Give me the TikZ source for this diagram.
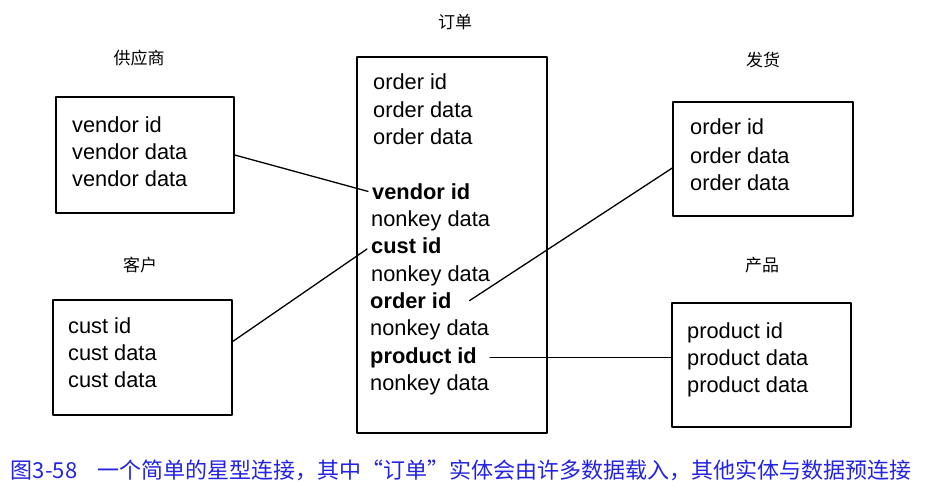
\documentclass[tikz,border=0pt]{standalone}
\usepackage{fontspec}
\usepackage{tikz}
\usetikzlibrary{calc}
\newfontfamily\fieldfont{Liberation Sans}
\newfontfamily\cjk{Noto Sans CJK SC}
\definecolor{capblue}{RGB}{35,35,225}

\begin{document}
\begin{tikzpicture}[x=1pt, y=-1pt, line join=round, line cap=round,
  table/.style={draw, line width=1.4pt, inner sep=0pt},
  field/.style={anchor=base west, inner xsep=4pt, inner ysep=0pt, font=\fieldfont\fontsize{21.8}{24}\selectfont},
  keyfield/.style={field, font=\fieldfont\bfseries\fontsize{21.8}{24}\selectfont},
  title/.style={font=\cjk\fontsize{17}{17}\selectfont},
  link/.style={line width=1.3pt}]
  \useasboundingbox (0,0) rectangle (927,487);

  % Define table frames
  \node[table, minimum width=190pt, minimum height=376pt] (order) at (452,245) {};
  \node[table, minimum width=178pt, minimum height=116pt] (vendor) at (145,155) {};
  \node[table, minimum width=179pt, minimum height=115pt] (cust) at (142.5,357.5) {};
  \node[table, minimum width=180pt, minimum height=114pt] (ship) at (763,159) {};
  \node[table, minimum width=179pt, minimum height=124pt] (prod) at (761.5,365) {};

  % Table titles
  \node[title] (ordertitle) at (455,22) {订单};
  \node[title] (vendortitle) at (139,58) {供应商};
  \node[title] (custtitle) at (140,265) {客户};
  \node[title] (shiptitle) at (763,60) {发货};
  \node[title] (prodtitle) at (762,265) {产品};

  % Rows of the order table
  \node[field] (o1) at (369,90) {order id};
  \node[field] (o2) at (369,117.3) {order data};
  \node[field] (o3) at (369,144.6) {order data};
  \node[keyfield] (ovid) at (368,199.2) {vendor id};
  \node[field] (o5) at (367,226.5) {nonkey data};
  \node[keyfield] (ocid) at (367,253.8) {cust id};
  \node[field] (o7) at (367,281.1) {nonkey data};
  \node[keyfield] (ooid) at (366,308.4) {order id};
  \node[field] (o9) at (366,335.7) {nonkey data};
  \node[keyfield] (opid) at (366,363) {product id};
  \node[field] (o11) at (366,390.3) {nonkey data};

  % Rows of the other tables
  \node[field] (v1) at (68,132) {vendor id};
  \node[field] (v2) at (68,159) {vendor data};
  \node[field] (v3) at (68,186) {vendor data};
  \node[field] (c1) at (64,333) {cust id};
  \node[field] (c2) at (64,360) {cust data};
  \node[field] (c3) at (64,387) {cust data};
  \node[field] (s1) at (686,135) {order id};
  \node[field] (s2) at (686,163) {order data};
  \node[field] (s3) at (686,190) {order data};
  \node[field] (p1) at (683,338) {product id};
  \node[field] (p2) at (683,365) {product data};
  \node[field] (p3) at (683,392) {product data};

  % Key links
  \draw[link] (vendor.east) -- (ovid.west);
  \draw[link] ([yshift=16pt]cust.east) -- ([yshift=-3pt]ocid.west);
  \draw[link] ([xshift=14pt]ooid.east) -- ([yshift=-9pt]ship.west);
  \draw[link] ([xshift=9pt]opid.east) -- (opid.east -| prod.west);

  % Caption
  \node[font=\cjk\fontsize{22}{24}\selectfont, text=capblue] (caption) at (461,470)
    {图3-58\hspace{0.9em}一个简单的星型连接，其中“订单”实体会由许多数据载入，其他实体与数据预连接};
\end{tikzpicture}
\end{document}
